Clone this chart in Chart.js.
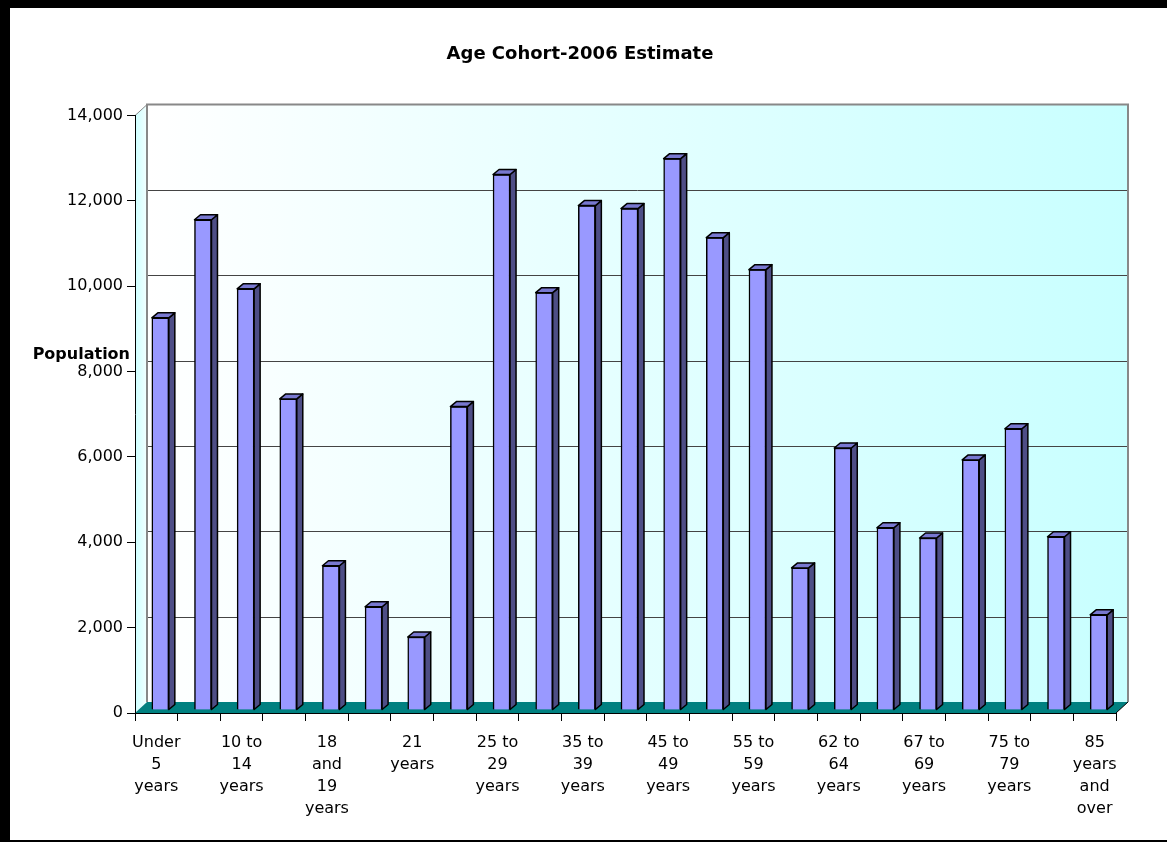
<!DOCTYPE html>
<html><head><meta charset="utf-8">
<script src="https://cdn.jsdelivr.net/npm/chart.js@4/dist/chart.umd.min.js"></script>
<style>html,body{margin:0;padding:0;background:#fff}canvas{display:block}</style>
</head><body>
<canvas id="c" width="1167" height="842"></canvas>
<script>
const titleText = "Age Cohort-2006 Estimate";
const yAxisTitle = "Population";
const categories = ["Under 5 years","5 to 9 years","10 to 14 years","15 to 17 years","18 and 19 years","20 years","21 years","22 to 24 years","25 to 29 years","30 to 34 years","35 to 39 years","40 to 44 years","45 to 49 years","50 to 54 years","55 to 59 years","60 and 61 years","62 to 64 years","65 and 66 years","67 to 69 years","70 to 74 years","75 to 79 years","80 to 84 years","85 years and over"];
const population = [9190,11490,9870,7290,3380,2420,1710,7110,12550,9780,11820,11750,12920,11070,10320,3330,6140,4270,4030,5860,6590,4060,2230];
const yTicks = [0,2000,4000,6000,8000,10000,12000,14000];

const FONT = "'DejaVu Sans', 'Liberation Sans', Arial, sans-serif";
const mctx = document.createElement('canvas').getContext('2d');
mctx.font = '16px ' + FONT;
function wrap(text, maxW) {
  const words = text.split(' '); const lines = []; let cur = '';
  for (const w of words) {
    const t = cur ? cur + ' ' + w : w;
    if (cur && mctx.measureText(t).width > maxW) { lines.push(cur); cur = w; } else cur = t;
  }
  if (cur) lines.push(cur);
  return lines;
}

const DX = 12, DY = -11;      // wall depth
const BDX = 6, BDY = -5;      // bar depth
const BOX = 4, BOY = -3;      // bar placement inside the depth

const scene = {
  id: 'scene',
  beforeDraw(chart) {
    const {ctx, chartArea: a, width, height} = chart;
    const L = a.left, R = a.right, T = a.top, B = a.bottom;
    ctx.save();
    ctx.fillStyle = '#fff'; ctx.fillRect(0, 0, width, height);
    ctx.fillStyle = '#000';
    ctx.fillRect(0, 0, width, 8);
    ctx.fillRect(0, 0, 10, height);
    ctx.fillRect(0, height - 2, width, 2);
    // back wall
    let g = ctx.createLinearGradient(L + DX, 0, R + DX, 0);
    g.addColorStop(0, '#FFFFFF'); g.addColorStop(1, '#C8FFFF');
    ctx.fillStyle = g; ctx.fillRect(L + DX, T + DY, R - L, B - T);
    // side wall
    ctx.beginPath(); ctx.moveTo(L, T); ctx.lineTo(L + DX, T + DY); ctx.lineTo(L + DX, B + DY); ctx.lineTo(L, B); ctx.closePath();
    g = ctx.createLinearGradient(L, 0, L + DX, 0); g.addColorStop(0, '#CCFFFF'); g.addColorStop(1, '#F2FFFF');
    ctx.fillStyle = g; ctx.fill();
    // gridlines on back wall
    const ys = chart.scales.y;
    ctx.strokeStyle = '#444'; ctx.lineWidth = 1;
    ys.ticks.forEach(t => {
      if (t.value === yTicks[0] || t.value === yTicks[yTicks.length - 1]) return;
      const py = Math.round(ys.getPixelForValue(t.value) + DY) + 0.5;
      ctx.beginPath(); ctx.moveTo(L + DX, py); ctx.lineTo(R + DX, py); ctx.stroke();
    });
    // wall borders
    ctx.strokeStyle = '#888'; ctx.lineWidth = 2;
    ctx.beginPath(); ctx.moveTo(L + DX, B + DY); ctx.lineTo(L + DX, T + DY); ctx.lineTo(R + DX, T + DY); ctx.lineTo(R + DX, B + DY); ctx.stroke();
    ctx.lineWidth = 1;
    ctx.beginPath(); ctx.moveTo(L, T); ctx.lineTo(L + DX, T + DY); ctx.stroke();
    // floor
    ctx.beginPath(); ctx.moveTo(L, B); ctx.lineTo(L + DX, B + DY); ctx.lineTo(R + DX, B + DY); ctx.lineTo(R, B); ctx.closePath();
    ctx.fillStyle = '#008080'; ctx.fill();
    ctx.strokeStyle = '#000'; ctx.lineWidth = 1;
    ctx.beginPath(); ctx.moveTo(R, B); ctx.lineTo(R + DX, B + DY); ctx.stroke();
    // axis title
    ctx.fillStyle = '#000'; ctx.font = 'bold 16px ' + FONT; ctx.textAlign = 'right'; ctx.textBaseline = 'alphabetic';
    ctx.fillText(yAxisTitle, 130, 359);
    ctx.restore();
  },
  beforeDatasetsDraw(chart) { chart.ctx.save(); chart.ctx.translate(BOX, BOY); },
  afterDatasetsDraw(chart) {
    const ctx = chart.ctx;
    const meta = chart.getDatasetMeta(0);
    ctx.lineWidth = 1.5; ctx.strokeStyle = '#000'; ctx.lineJoin = 'round';
    meta.data.forEach(bar => {
      const {x, y, base, width} = bar.getProps(['x', 'y', 'base', 'width'], true);
      const l = x - width / 2, r = x + width / 2;
      ctx.beginPath(); ctx.moveTo(r, y); ctx.lineTo(r + BDX, y + BDY); ctx.lineTo(r + BDX, base + BDY); ctx.lineTo(r, base); ctx.closePath();
      ctx.fillStyle = '#4E4E86'; ctx.fill(); ctx.stroke();
      ctx.beginPath(); ctx.moveTo(l, y); ctx.lineTo(l + BDX, y + BDY); ctx.lineTo(r + BDX, y + BDY); ctx.lineTo(r, y); ctx.closePath();
      ctx.fillStyle = '#7878D0'; ctx.fill(); ctx.stroke();
    });
    ctx.restore();
  }
};

new Chart(document.getElementById('c'), {
  type: 'bar',
  data: {
    labels: categories,
    datasets: [{
      label: yAxisTitle,
      data: population,
      backgroundColor: '#9999FF',
      borderColor: '#000',
      borderWidth: 1.5,
      barThickness: 17
    }]
  },
  options: {
    responsive: false,
    animation: false,
    devicePixelRatio: 1,
    layout: { padding: { top: 0, left: 44, right: 51, bottom: 0 } },
    plugins: {
      legend: { display: false },
      tooltip: { enabled: false },
      title: {
        display: true, text: titleText, color: '#000',
        font: { family: FONT, size: 18, weight: 'bold' },
        padding: { top: 44, bottom: 50 }
      }
    },
    scales: {
      x: {
        afterFit: s => { s.height = 129; },
        ticks: {
          color: '#000', font: { family: FONT, size: 16, lineHeight: 1.375 }, padding: 11,
          autoSkip: false, maxRotation: 0, minRotation: 0,
          callback: (v, i) => i % 2 === 0 ? wrap(categories[i], 50) : ''
        },
        grid: { drawOnChartArea: false, drawTicks: true, tickLength: 8, offset: true, color: '#000' },
        border: { display: true, color: '#000', width: 1 }
      },
      y: {
        min: yTicks[0], max: yTicks[yTicks.length - 1],
        afterFit: s => { s.width = 91; },
        afterBuildTicks: s => { s.ticks = yTicks.map(v => ({ value: v })); },
        ticks: { color: '#000', font: { family: FONT, size: 16 }, padding: 4, callback: v => v.toLocaleString('en-US') },
        grid: { drawOnChartArea: false, drawTicks: true, tickLength: 8, color: '#000' },
        border: { display: true, color: '#000', width: 1 }
      }
    }
  },
  plugins: [scene]
});
</script>
</body></html>
